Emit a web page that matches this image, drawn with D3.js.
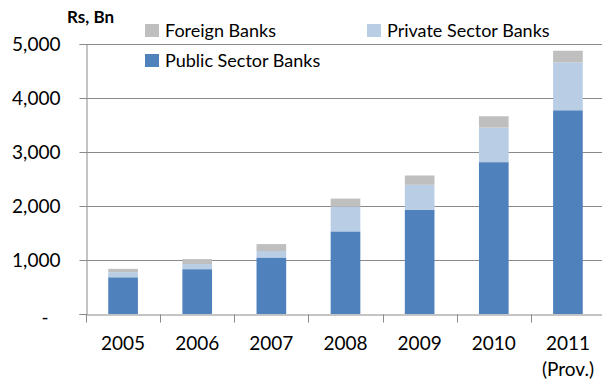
<!DOCTYPE html>
<html>
<head>
<meta charset="utf-8">
<title>Bank deposits stacked bars</title>
<script src="https://d3js.org/d3.v7.min.js"></script>
<style>
  body { margin: 0; background: #fff; }
  svg text { font-family: Lato, "Open Sans", sans-serif; fill: #000; }
</style>
</head>
<body>
<div id="chart"></div>
<script>
// chart data (Rs, Bn)
const years = ["2005", "2006", "2007", "2008", "2009", "2010", "2011"];
const publicBanks  = [680, 830, 1046, 1530, 1927, 2812, 3773];
const privateBanks = [95, 94, 119, 459, 465, 640, 887];
const foreignBanks = [61, 93, 130, 148, 173, 210, 215];
const yTicks = [0, 1000, 2000, 3000, 4000, 5000];

const width = 602;
const height = 381;

// plot area edges (x axis runs past the right side of the window)
const plotLeft = 86, plotRight = 605, plotTop = 44, plotBottom = 314;

const svg = d3.select("#chart")
  .append("svg")
  .attr("width", width)
  .attr("height", height);

const keys = ["public", "private", "foreign"];
const color = d3.scaleOrdinal()
  .domain(keys)
  .range(["#4f81bd", "#b9cde5", "#bfbfbf"]);

const rows = years.map(function(y, i) {
  return { year: y, public: publicBanks[i], private: privateBanks[i], foreign: foreignBanks[i] };
});

const x = d3.scaleBand().domain(years).range([plotLeft, plotRight]).padding(0);
const y = d3.scaleLinear().domain([0, 5000]).range([plotBottom, plotTop]);

// gridlines
svg.append("g")
  .selectAll("line")
  .data(yTicks.filter(function(d) { return d > 0; }))
  .enter().append("line")
    .attr("x1", plotLeft).attr("x2", width)
    .attr("y1", function(d) { return Math.round(y(d)) + 0.5; })
    .attr("y2", function(d) { return Math.round(y(d)) + 0.5; })
    .style("stroke", "#8a8a8a")
    .style("stroke-width", 1);

// stacked bars
const stack = d3.stack().keys(keys)(rows);
const barW = x.bandwidth() * 0.4;

svg.append("g")
  .selectAll("g")
  .data(stack)
  .enter().append("g")
    .style("fill", function(d) { return color(d.key); })
  .selectAll("rect")
  .data(function(d) { return d; })
  .enter().append("rect")
    .attr("x", function(d) { return x(d.data.year) + (x.bandwidth() - barW) / 2; })
    .attr("width", barW)
    .attr("y", function(d) { return y(d[1]); })
    .attr("height", function(d) { return y(d[0]) - y(d[1]); });

// y axis
const yAxis = svg.append("g")
  .attr("transform", "translate(" + (plotLeft + 0.5) + ",0)")
  .call(d3.axisLeft(y).tickValues(yTicks).tickSize(7).tickPadding(19)
    .tickFormat(function(d) { return d === 0 ? "-" : d3.format(",")(d); }));

yAxis.selectAll("text")
  .style("font-size", "19px")
  .filter(function(d) { return d === 0; })
  .attr("x", -38)
  .attr("dy", "0.5em");

// x axis
const xAxis = svg.append("g")
  .attr("transform", "translate(0," + (plotBottom + 0.5) + ")")
  .call(d3.axisBottom(x).tickSize(0).tickPadding(22));

xAxis.selectAll("text").style("font-size", "19px");

// x axis ticks sit at the category boundaries
xAxis.selectAll(".boundary")
  .data(years)
  .enter().append("line")
    .attr("class", "boundary")
    .attr("x1", function(d) { return Math.round(x(d)) + 0.5; })
    .attr("x2", function(d) { return Math.round(x(d)) + 0.5; })
    .attr("y1", 0).attr("y2", 8);

svg.selectAll(".domain, .tick line, .boundary").style("stroke", "#8a8a8a");

// "(Prov.)" under 2011
xAxis.append("text")
  .attr("x", x("2011") + x.bandwidth() / 2)
  .attr("y", 61)
  .attr("text-anchor", "middle")
  .style("font-size", "19px")
  .text("(Prov.)");

// unit label
svg.append("text")
  .attr("x", 67).attr("y", 23)
  .style("font-size", "17px")
  .style("font-weight", "bold")
  .text("Rs, Bn");

// legend
const legend = [
  { key: "foreign", label: "Foreign Banks", x: 145, y: 24 },
  { key: "private", label: "Private Sector Banks", x: 367, y: 24 },
  { key: "public",  label: "Public Sector Banks", x: 145, y: 54 }
];

const lg = svg.append("g")
  .selectAll("g")
  .data(legend)
  .enter().append("g")
    .attr("transform", function(d) { return "translate(" + d.x + "," + d.y + ")"; });

lg.append("rect")
  .attr("width", 14).attr("height", 13)
  .style("fill", function(d) { return color(d.key); });

lg.append("text")
  .attr("x", 20).attr("y", 12.5)
  .style("font-size", "18px")
  .text(function(d) { return d.label; });
</script>
</body>
</html>
